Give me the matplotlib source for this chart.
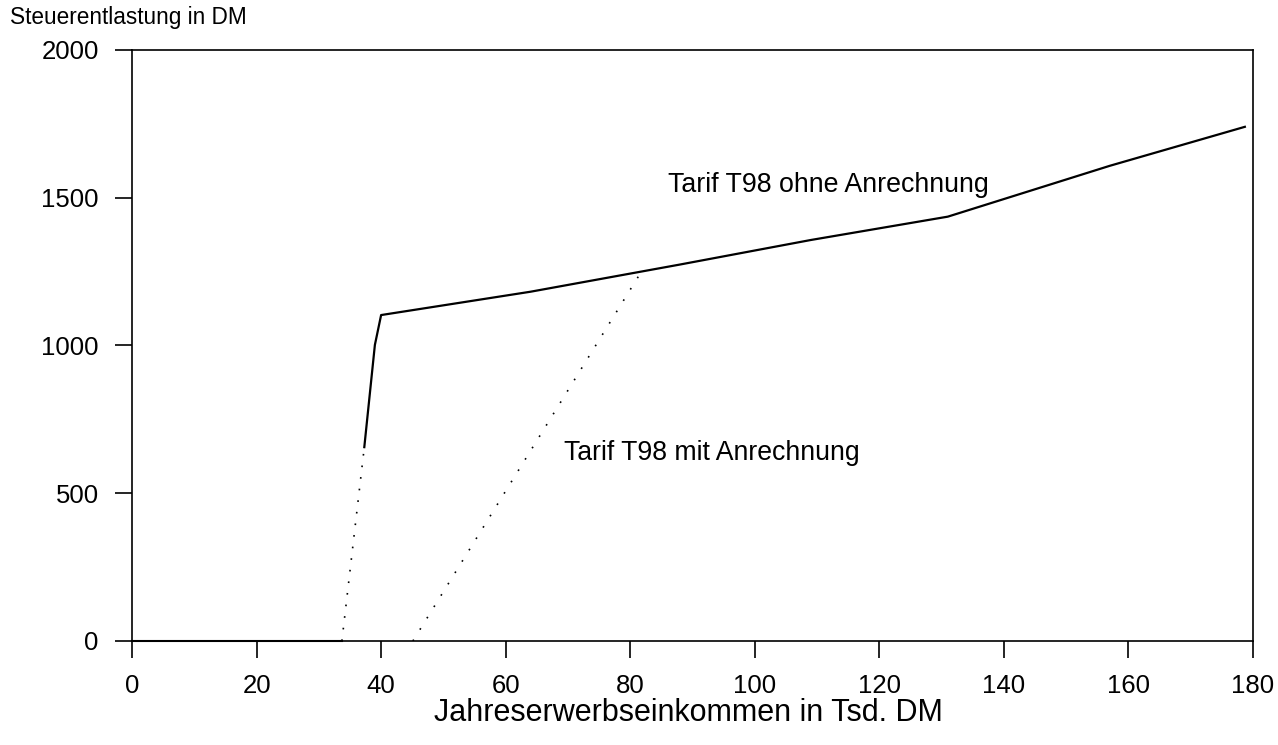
import matplotlib
matplotlib.use('Agg')
from matplotlib import pyplot as plt

plt.rcParams['font.family'] = ['Liberation Sans', 'DejaVu Sans']

# Tarif T98 ohne Anrechnung (Tsd. DM, DM)
ohne_x = [0, 33.7, 37.3, 39.0, 40.0, 64.0, 88.0, 109.0, 131.0, 157.0, 178.7]
ohne_y = [0, 0, 656, 1002, 1103, 1182, 1274, 1357, 1436, 1608, 1740]

# Tarif T98 mit Anrechnung
mit_x = [45.1, 81.5]
mit_y = [0, 1240]

x_ticks = [0, 20, 40, 60, 80, 100, 120, 140, 160, 180]
y_ticks = [0, 500, 1000, 1500, 2000]

fig = plt.figure(figsize=(12.78, 7.45), dpi=100)
ax = fig.add_axes([0.1033, 0.1396, 0.8771, 0.7933])

# flat part and upper part solid, steep lower part faded (dotted) as in the scan
ax.plot(ohne_x[:2], ohne_y[:2], color='black', lw=1.5, clip_on=False)
ax.plot(ohne_x[1:3], ohne_y[1:3], color='black', lw=1.2, linestyle=(0, (1, 6)))
ax.plot(ohne_x[2:], ohne_y[2:], color='black', lw=1.6)
ax.plot(mit_x, mit_y, color='black', lw=1.2, linestyle=(0, (1, 7)))

ax.text(86.1, 1543, 'Tarif T98 ohne Anrechnung', fontsize=19.3, va='center', ha='left')
ax.text(69.4, 636, 'Tarif T98 mit Anrechnung', fontsize=19.2, va='center', ha='left')

ax.set_xlim(0, 180)
ax.set_ylim(0, 2000)
ax.set_xticks(x_ticks)
ax.set_yticks(y_ticks)
ax.tick_params(axis='both', direction='out', length=12, width=1.2, labelsize=18.5, pad=12)

for s in ax.spines.values():
    s.set_linewidth(1.2)

fig.text(0.008, 0.977, 'Steuerentlastung in DM', fontsize=16.3, ha='left', va='center')
fig.text(0.539, 0.043, 'Jahreserwerbseinkommen in Tsd. DM', fontsize=22, ha='center', va='center')

fig.savefig('out.png', dpi=100)
